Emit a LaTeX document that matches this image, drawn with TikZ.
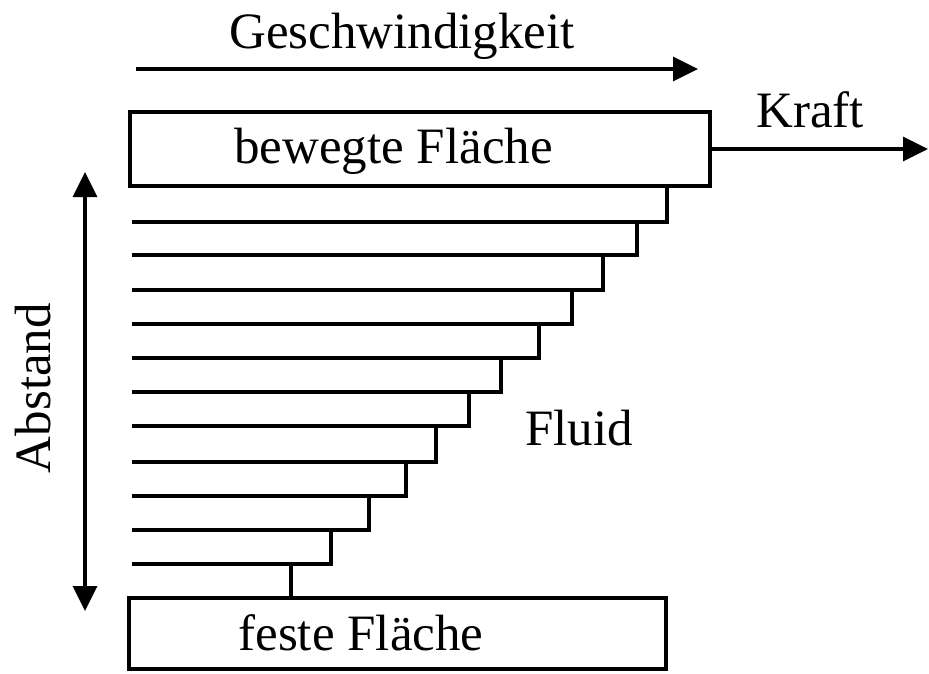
\documentclass[tikz,border=0pt]{standalone}
\usepackage{fontspec}
\setmainfont{Liberation Serif}
\usetikzlibrary{arrows.meta}
\tikzset{
  lbl/.style={anchor=base, inner sep=0pt, font=\fontsize{51}{60}\selectfont},
  plate/.style={draw, line width=3.5pt, inner sep=0pt},
  ln/.style={line width=3.5pt},
  arr/.style={line width=3.5pt, -{Triangle[length=25pt,width=24pt]}},
  darr/.style={line width=3.5pt, {Triangle[length=25pt,width=24pt]}-{Triangle[length=25pt,width=24pt]}}
}
\begin{document}
\begin{tikzpicture}[x=1pt,y=-1pt]
\useasboundingbox[fill=white] (0,0) rectangle (929,673);
% plates
\node[plate, minimum width=580pt, minimum height=74pt] (top) at (420,149) {};
\node[plate, minimum width=537pt, minimum height=71pt] (bot) at (397.5,633.5) {};
\node[lbl] (toplbl) at (393.5,163) {bewegte Fläche};
\node[lbl] (botlbl) at (361,650) {feste Fläche};
% velocity arrow
\coordinate (v0) at (136,69);
\coordinate (v1) at (698,69);
\draw[arr] (v0) -- (v1);
\node[lbl] (vlbl) at (402,48) {Geschwindigkeit};
% force arrow
\coordinate (f1) at (928,149);
\draw[arr] (top.east |- 0,149) -- (f1);
\node[lbl] (flbl) at (810,127) {Kraft};
% distance arrow
\coordinate (a0) at (85,172);
\coordinate (a1) at (85,611);
\draw[darr] (a0) -- (a1);
\node[lbl, rotate=90] (albl) at (50,388) {Abstand};
% fluid
\node[lbl] (fluid) at (579,445) {Fluid};
% velocity profile steps
\coordinate (s0) at (667,186);
\foreach \i/\y/\xa/\xb in {1/222/667/637, 2/255/637/603, 3/290/603/572, 4/324/572/539, 5/358/539/501, 6/392/501/469, 7/426/469/436, 8/462/436/406, 9/496/406/369, 10/530/369/331, 11/564/331/291}{
  \coordinate (r\i) at (\xa,\y);
  \coordinate (l\i) at (132,\y);
  \coordinate (n\i) at (\xb,\y);
}
\draw[ln] (s0) -- (r1) -- (l1);
\foreach \i [evaluate=\i as \j using int(\i-1)] in {2,...,11}{
  \draw[ln] (n\j) -- (r\i) -- (l\i);
}
\draw[ln] (n11) -- (n11 |- bot.north);
\end{tikzpicture}
\end{document}
